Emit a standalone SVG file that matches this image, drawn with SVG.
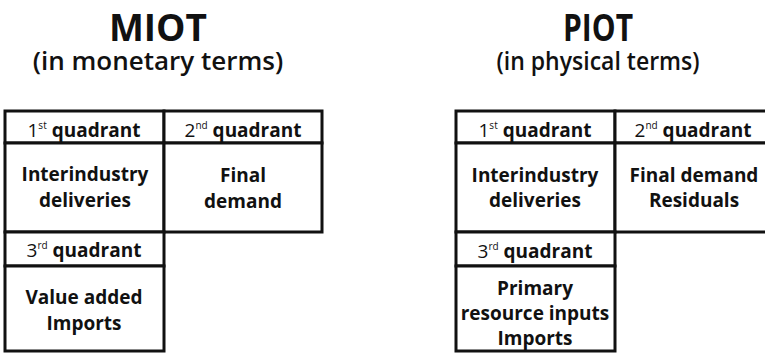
<svg xmlns="http://www.w3.org/2000/svg" width="765" height="354" viewBox="0 0 765 354">
<style>
text{font-family:"Open Sans","Noto Sans","Liberation Sans",sans-serif;fill:#111;text-anchor:middle}
.title{font-size:37px;font-weight:700}
.sub{font-size:26px;font-weight:600}
.q{font-size:19px;font-weight:700}
.n{font-weight:400}
.sup{font-size:10px;font-weight:400}
.c{font-size:19px;font-weight:700}
.cell{fill:#fff;stroke:#111;stroke-width:3}
</style>
<rect width="765" height="354" fill="#fff"/>
<g id="miot-title">
<text class="title" x="158" y="41">MIOT</text>
<text class="sub" x="158" y="70">(in monetary terms)</text>
</g>
<g id="piot-title">
<text class="title" x="598" y="41" textLength="70" lengthAdjust="spacingAndGlyphs">PIOT</text>
<text class="sub" x="598" y="70" textLength="203" lengthAdjust="spacingAndGlyphs">(in physical terms)</text>
</g>
<g id="miot-q1-head"><rect class="cell" x="5" y="111" width="159" height="32"/>
<text class="q" x="84" y="137"><tspan class="n">1</tspan><tspan class="sup" dy="-8">st</tspan><tspan dy="8"> quadrant</tspan></text></g>
<g id="miot-q2-head"><rect class="cell" x="164" y="111" width="158" height="32"/>
<text class="q" x="243" y="137"><tspan class="n">2</tspan><tspan class="sup" dy="-8">nd</tspan><tspan dy="8"> quadrant</tspan></text></g>
<g id="miot-q1"><rect class="cell" x="5" y="143" width="159" height="89"/>
<text class="c" x="85" y="181">Interindustry</text><text class="c" x="85" y="207">deliveries</text></g>
<g id="miot-q2"><rect class="cell" x="164" y="143" width="158" height="89"/>
<text class="c" x="243" y="182">Final</text><text class="c" x="243" y="208">demand</text></g>
<g id="miot-q3-head"><rect class="cell" x="5" y="232" width="159" height="34"/>
<text class="q" x="84" y="257"><tspan class="n">3</tspan><tspan class="sup" dy="-8">rd</tspan><tspan dy="8"> quadrant</tspan></text></g>
<g id="miot-q3"><rect class="cell" x="5" y="266" width="159" height="85"/>
<text class="c" x="84" y="304">Value added</text><text class="c" x="84" y="330">Imports</text></g>

<g id="piot-q1-head"><rect class="cell" x="456" y="111" width="159" height="32"/>
<text class="q" x="535" y="137"><tspan class="n">1</tspan><tspan class="sup" dy="-8">st</tspan><tspan dy="8"> quadrant</tspan></text></g>
<g id="piot-q2-head"><rect class="cell" x="615" y="111" width="155" height="32"/>
<text class="q" x="693" y="137"><tspan class="n">2</tspan><tspan class="sup" dy="-8">nd</tspan><tspan dy="8"> quadrant</tspan></text></g>
<g id="piot-q1"><rect class="cell" x="456" y="143" width="159" height="89"/>
<text class="c" x="535" y="182">Interindustry</text><text class="c" x="535" y="207">deliveries</text></g>
<g id="piot-q2"><rect class="cell" x="615" y="143" width="155" height="89"/>
<text class="c" x="694" y="182">Final demand</text><text class="c" x="694" y="207">Residuals</text></g>
<g id="piot-q3-head"><rect class="cell" x="456" y="232" width="159" height="34"/>
<text class="q" x="535" y="258"><tspan class="n">3</tspan><tspan class="sup" dy="-8">rd</tspan><tspan dy="8"> quadrant</tspan></text></g>
<g id="piot-q3"><rect class="cell" x="456" y="266" width="159" height="85"/>
<text class="c" x="535" y="295">Primary</text><text class="c" x="535" y="320">resource inputs</text><text class="c" x="535" y="345">Imports</text></g>
</svg>
